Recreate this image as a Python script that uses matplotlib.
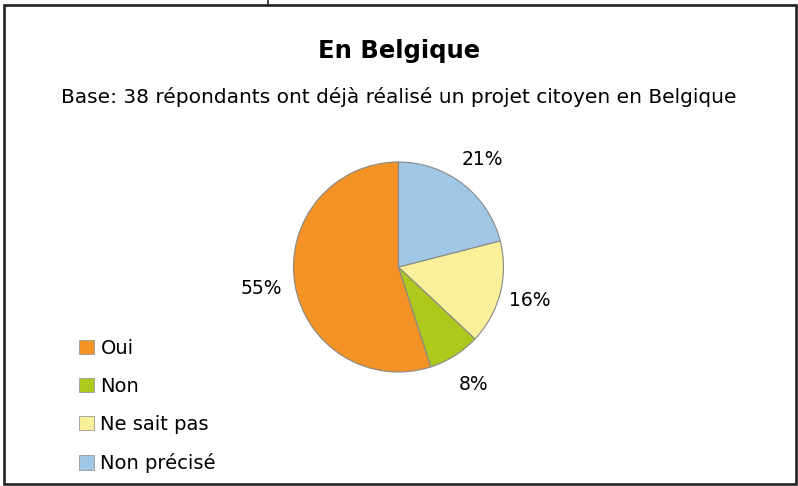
import numpy as np
import matplotlib.pyplot as plt
from matplotlib.patches import Rectangle, Patch
from matplotlib.lines import Line2D

# Réponses (en %) - base: 38 répondants
categories = ["Oui", "Non", "Ne sait pas", "Non précisé"]
percents = [55, 8, 16, 21]
colors = ["#F39325", "#AFC81C", "#FAF09A", "#A0C8E6"]

title = "En Belgique"
subtitle = "Base: 38 répondants ont déjà réalisé un projet citoyen en Belgique"

W, H = 798, 486
fig = plt.figure(figsize=(W / 100, H / 100), dpi=100)
fig.patch.set_facecolor("white")

# cadre autour du graphique
fig.add_artist(Rectangle((3.5 / W, 1 - 483.5 / H), 792 / W, 478.5 / H,
                         transform=fig.transFigure, fill=False,
                         edgecolor="#222222", linewidth=1.9))
fig.add_artist(Line2D([268 / W, 268 / W], [1 - 5 / H, 1.0],
                      transform=fig.transFigure, color="#222222", linewidth=1.2))

fig.text(0.5, 1 - 51 / H, title, ha="center", va="center",
         fontsize=17.5, fontweight="bold")
fig.text(0.5, 1 - 97 / H, subtitle, ha="center", va="center", fontsize=14.5)

# camembert
cx, cy, r = 398.5, 267, 105
ax = fig.add_axes([(cx - r) / W, (H - cy - r) / H, 2 * r / W, 2 * r / H])
wedges, _ = ax.pie(percents, colors=colors, startangle=90, counterclock=True,
                   radius=1, wedgeprops=dict(edgecolor="#888888", linewidth=0.8))
ax.set_xlim(-1, 1)
ax.set_ylim(-1, 1)
ax.set_aspect("equal")
ax.axis("off")

label_dist = [1.32, 1.33, 1.29, 1.30]
for w, p, d in zip(wedges, percents, label_dist):
    ang = np.deg2rad((w.theta1 + w.theta2) / 2)
    ax.text(d * np.cos(ang), d * np.sin(ang), f"{p}%", ha="center", va="center",
            fontsize=13.5, clip_on=False)

# légende
handles = [Patch(facecolor=c, edgecolor="#999999", linewidth=0.6) for c in colors]
fig.legend(handles, categories, loc="upper left",
           bbox_to_anchor=(79 / W, 1 - 339 / H), frameon=False, fontsize=14,
           handlelength=0.75, handleheight=0.75, handletextpad=0.35,
           labelspacing=0.98, borderaxespad=0, borderpad=0)

fig.savefig("out.png", dpi=100)
